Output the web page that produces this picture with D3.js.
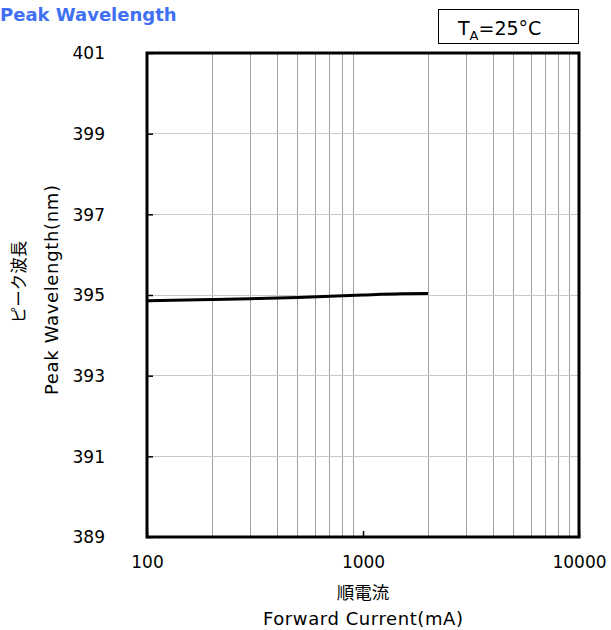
<!DOCTYPE html>
<html><head><meta charset="utf-8">
<script src="https://cdn.jsdelivr.net/npm/d3@7"></script>
<style>body{margin:0;background:#fff}svg{display:block}</style>
</head><body>
<script>
const currents = [100, 200, 300, 500, 700, 1000, 1500, 2000];
const wavelengths = [394.86, 394.89, 394.91, 394.94, 394.97, 395.00, 395.03, 395.04];
const yTicks = [389, 391, 393, 395, 397, 399, 401];
const xTicks = [100, 1000, 10000];

const W = 611, H = 630;
const m = {left: 147, right: 579, top: 53, bottom: 537};
const svg = d3.select("body").append("svg").attr("width", W).attr("height", H);
const font = "DejaVu Sans, Verdana, sans-serif";

const x = d3.scaleLog().domain([100, 10000]).range([m.left, m.right]);
const y = d3.scaleLinear().domain([389, 401]).range([m.bottom, m.top]);

// vertical minor gridlines
const minor = [];
for (let d = 100; d < 10000; d *= 10) for (let k = 2; k <= 9; k++) minor.push(d * k);
svg.append("g").selectAll("line").data(minor).join("line")
  .attr("x1", d => x(d)).attr("x2", d => x(d))
  .attr("y1", m.top).attr("y2", m.bottom)
  .attr("stroke", "#a0a0a0").attr("stroke-width", 1).attr("shape-rendering", "crispEdges");
// horizontal gridlines
svg.append("g").selectAll("line").data(yTicks.slice(1, -1)).join("line")
  .attr("x1", m.left).attr("x2", m.right)
  .attr("y1", d => y(d)).attr("y2", d => y(d))
  .attr("stroke", "#c8c8c8").attr("stroke-width", 1).attr("shape-rendering", "crispEdges");

// y axis inner ticks & labels
const ya = d3.axisLeft(y).tickValues(yTicks).tickSizeInner(-6).tickSizeOuter(0).tickPadding(42).tickFormat(d3.format("d"));
const gy = svg.append("g").attr("transform", `translate(${m.left},0)`).call(ya);
gy.select(".domain").remove();
gy.selectAll(".tick line").attr("stroke", "#000").attr("stroke-width", 1.5);
gy.selectAll("text").attr("font-family", font).attr("font-size", 17).attr("fill", "#000").attr("dy", "0.35em");

// x axis labels
const xa = d3.axisBottom(x).tickValues(xTicks).tickSizeInner(-6).tickSizeOuter(0).tickPadding(19).tickFormat(d3.format("d"));
const gx = svg.append("g").attr("transform", `translate(0,${m.bottom})`).call(xa);
gx.select(".domain").remove();
gx.selectAll(".tick line").attr("stroke", "#000").attr("stroke-width", 1.5);
gx.selectAll("text").attr("font-family", font).attr("font-size", 17).attr("fill", "#000");

// data line
svg.append("path").datum(currents.map((c, i) => [c, wavelengths[i]]))
  .attr("d", d3.line().x(d => x(d[0])).y(d => y(d[1])).curve(d3.curveMonotoneX))
  .attr("fill", "none").attr("stroke", "#000").attr("stroke-width", 3);

// frame
svg.append("rect").attr("x", m.left).attr("y", m.top)
  .attr("width", m.right - m.left).attr("height", m.bottom - m.top)
  .attr("fill", "none").attr("stroke", "#000").attr("stroke-width", 3);

// title
svg.append("text").attr("x", 0).attr("y", 21).text("Peak Wavelength")
  .attr("font-family", font).attr("font-weight", "bold").attr("font-size", 18).attr("fill", "#3f6ff2");

// legend box
svg.append("rect").attr("x", 438.5).attr("y", 9.5).attr("width", 140).attr("height", 34)
  .attr("fill", "#fff").attr("stroke", "#000").attr("stroke-width", 1);
const lt = svg.append("text").attr("x", 458).attr("y", 35).attr("font-family", font).attr("font-size", 19).attr("fill", "#000");
lt.append("tspan").text("T");
lt.append("tspan").text("A").attr("font-size", 13).attr("dy", 5);
lt.append("tspan").text("=25°C").attr("dy", -5);

// axis titles
svg.append("text").attr("x", (m.left + m.right) / 2).attr("y", 599).attr("text-anchor", "middle")
  .attr("font-family", "Noto Sans CJK JP, sans-serif").attr("font-size", 17.5).text("順電流");
svg.append("text").attr("x", (m.left + m.right) / 2).attr("y", 625).attr("text-anchor", "middle")
  .attr("font-family", font).attr("font-size", 18).attr("textLength", 200).attr("lengthAdjust", "spacing")
  .text("Forward Current(mA)");
svg.append("text").attr("transform", "translate(25,282) rotate(-90)").attr("text-anchor", "middle")
  .attr("font-family", "Noto Sans CJK JP, sans-serif").attr("font-size", 16.5).text("ピーク波長");
svg.append("text").attr("transform", "translate(58,290) rotate(-90)").attr("text-anchor", "middle")
  .attr("font-family", font).attr("font-size", 18).attr("textLength", 210).attr("lengthAdjust", "spacing")
  .text("Peak Wavelength(nm)");
</script>
</body></html>
